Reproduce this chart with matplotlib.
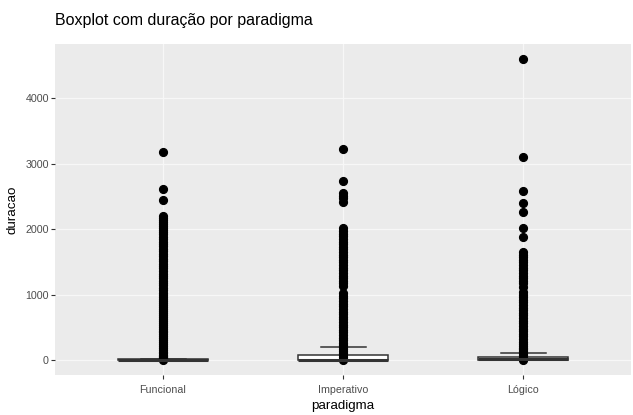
import matplotlib.pyplot as plt
from matplotlib.ticker import MultipleLocator

# categories and box statistics
paradigmas = ["Funcional", "Imperativo", "Lógico"]
q1 = [0, 0, 1]
mediana = [2, 2, 10]
q3 = [8, 75, 48]
bigode_inf = [0, 0, 0]
bigode_sup = [20, 195, 100]

# points drawn over each box (duracao); the column goes all the way to 0
fora_funcional = [3180, 2610, 2450, 2200, 2170, 2140, 2110, 2080, 2050, 2010, 1980,
                  1950, 1920, 1880, 1850, 1810, 1780, 1740, 1700, 1660, 1620, 1590,
                  1550, 1510, 1470, 1430, 1400, 1360, 1320, 1290, 1250, 1210, 1180,
                  1140, 1100, 1070, 1030, 1000, 960, 930, 900, 870, 840, 810, 780,
                  750, 720, 690, 660, 630, 600, 570, 540, 510, 480, 450, 420, 390,
                  360, 330, 300, 270, 240, 210, 180, 150, 120, 100, 80, 60, 45, 30,
                  15, 0]
fora_imperativo = [3230, 2730, 2550, 2510, 2470, 2420, 2010, 1970, 1930, 1890, 1850,
                   1810, 1770, 1730, 1690, 1650, 1610, 1570, 1530, 1490, 1450, 1410,
                   1370, 1330, 1290, 1250, 1210, 1170, 1130, 1020, 980, 940, 900, 860,
                   820, 780, 740, 700, 660, 620, 580, 540, 500, 460, 420, 380, 340,
                   300, 260, 230, 200, 170, 140, 110, 80, 50, 20, 0]
fora_logico = [4600, 3110, 2590, 2400, 2255, 2020, 1880, 1650, 1610, 1570, 1530, 1490,
               1450, 1410, 1370, 1330, 1290, 1250, 1210, 1170, 1120, 1040, 1000, 960,
               920, 880, 840, 800, 760, 720, 680, 640, 600, 560, 520, 480, 440, 400,
               360, 320, 280, 250, 220, 190, 160, 130, 110, 80, 50, 20, 0]
fliers = [fora_funcional, fora_imperativo, fora_logico]

stats = []
for i, nome in enumerate(paradigmas):
    stats.append({"label": nome, "q1": q1[i], "med": mediana[i], "q3": q3[i],
                  "whislo": bigode_inf[i], "whishi": bigode_sup[i],
                  "fliers": fliers[i]})

plt.rcParams["font.family"] = ["Liberation Sans", "DejaVu Sans"]

fig = plt.figure(figsize=(6.33, 4.15), dpi=100)
ax = fig.add_axes([55 / 633, 1 - 375 / 415, 576 / 633, 331 / 415])
ax.set_facecolor("#EBEBEB")

ax.bxp(stats, positions=[1, 2, 3], widths=0.5, capwidths=0.25, patch_artist=True,
       boxprops=dict(facecolor="white", edgecolor="#333333", linewidth=1.1),
       medianprops=dict(color="#333333", linewidth=2.2),
       whiskerprops=dict(color="#333333", linewidth=1.1),
       capprops=dict(color="#333333", linewidth=1.1),
       flierprops=dict(marker="o", markerfacecolor="black", markeredgecolor="black",
                       markersize=5.6, linestyle="none"),
       zorder=3)

ax.set_xlim(0.4, 3.6)
ax.set_ylim(-230, 4830)
ax.yaxis.set_major_locator(MultipleLocator(1000))
ax.set_xticks([1, 2, 3])
ax.set_xticklabels(paradigmas)

ax.grid(which="major", color="#F7F7F7", linewidth=0.9, zorder=0)
ax.set_axisbelow(True)
for s in ax.spines.values():
    s.set_visible(False)

ax.tick_params(which="major", length=2.9, width=0.8, color="#333333",
               labelcolor="#4D4D4D", labelsize=7.7, pad=1.5)
ax.tick_params(axis="x", pad=4)

ax.set_xlabel("paradigma", fontsize=9.6, color="black", labelpad=4)
ax.set_ylabel("duracao", fontsize=9.6, color="black", labelpad=5)
fig.text(55 / 633, 1 - 25 / 415, "Boxplot com duração por paradigma",
         fontsize=11.5, color="black", ha="left", va="baseline")

fig.savefig("out.png", dpi=100)
